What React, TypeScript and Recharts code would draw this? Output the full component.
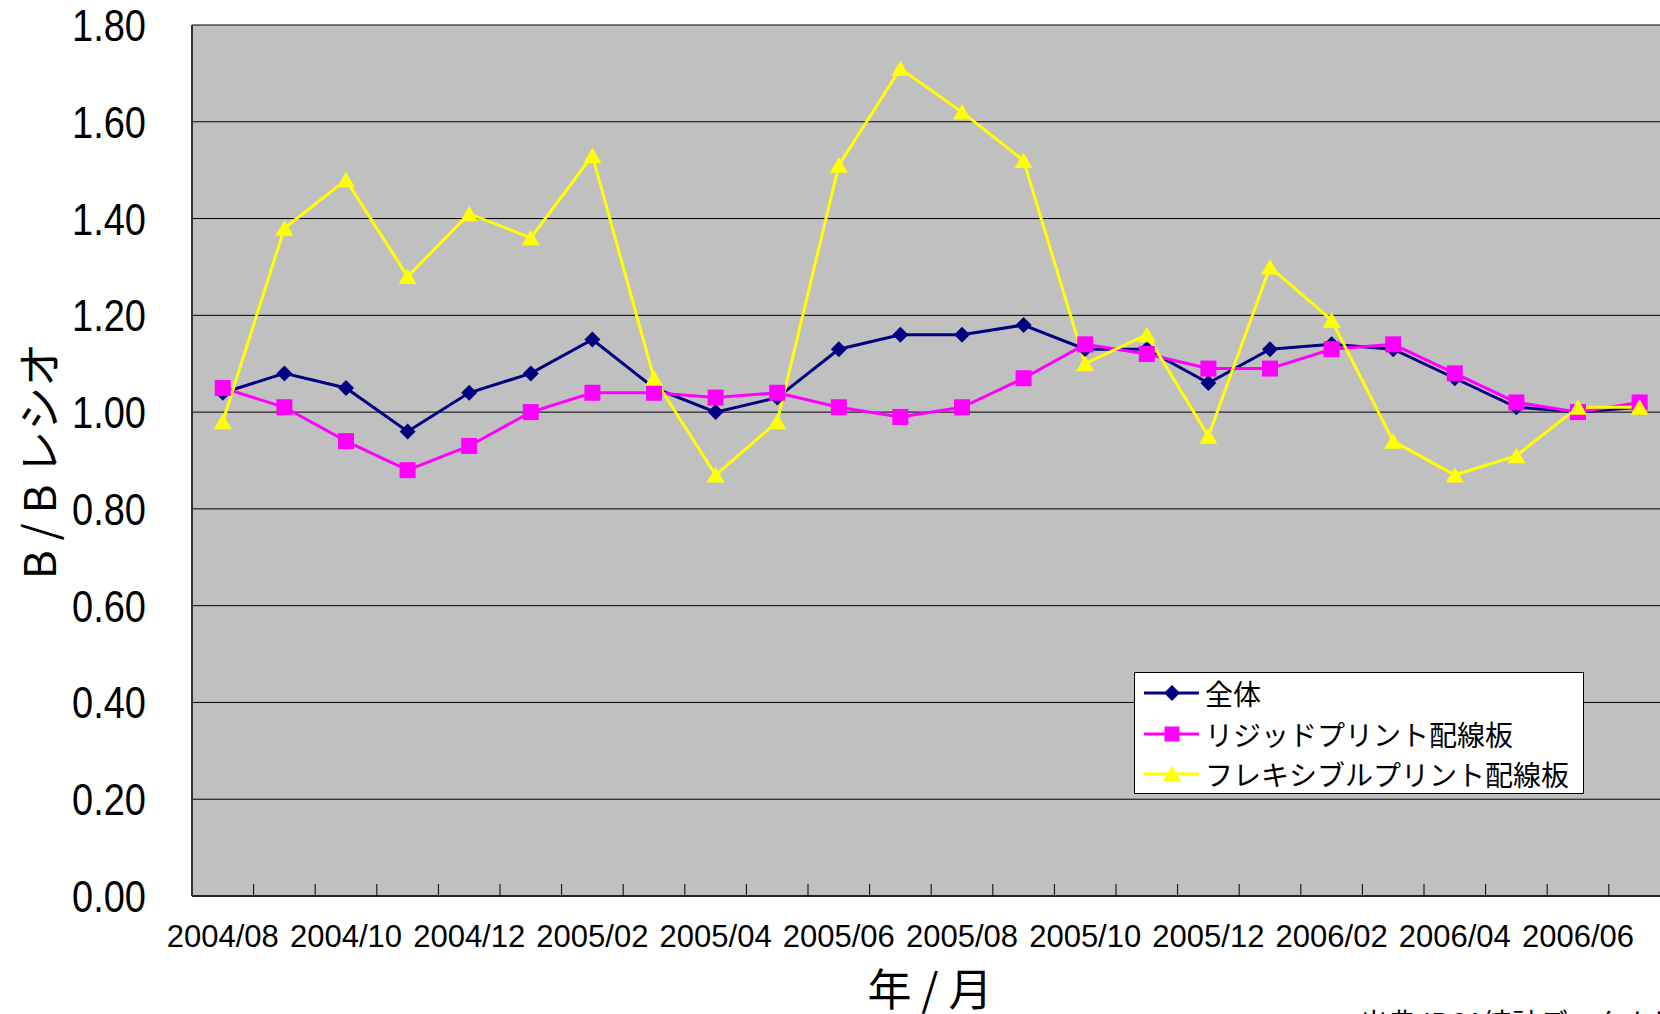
import React from "react";
import {
  LineChart,
  Line,
  XAxis,
  YAxis,
  CartesianGrid,
  Legend,
} from "recharts";

// months on the x axis (2004/08 - 2006/07)
const months = [
  "2004/08", "2004/09", "2004/10", "2004/11", "2004/12",
  "2005/01", "2005/02", "2005/03", "2005/04", "2005/05", "2005/06",
  "2005/07", "2005/08", "2005/09", "2005/10", "2005/11", "2005/12",
  "2006/01", "2006/02", "2006/03", "2006/04", "2006/05", "2006/06",
  "2006/07",
];

// B/B ratio per series
const total = [
  1.04, 1.08, 1.05, 0.96, 1.04, 1.08, 1.15, 1.05, 1.0, 1.03, 1.13, 1.16,
  1.16, 1.18, 1.13, 1.13, 1.06, 1.13, 1.14, 1.13, 1.07, 1.01, 1.0, 1.01,
];
const rigid = [
  1.05, 1.01, 0.94, 0.88, 0.93, 1.0, 1.04, 1.04, 1.03, 1.04, 1.01, 0.99,
  1.01, 1.07, 1.14, 1.12, 1.09, 1.09, 1.13, 1.14, 1.08, 1.02, 1.0, 1.02,
];
const flex = [
  0.98, 1.38, 1.48, 1.28, 1.41, 1.36, 1.53, 1.07, 0.87, 0.98, 1.51, 1.71,
  1.62, 1.52, 1.1, 1.16, 0.95, 1.3, 1.19, 0.94, 0.87, 0.91, 1.01, 1.01,
];

const yTicks = [0, 0.2, 0.4, 0.6, 0.8, 1.0, 1.2, 1.4, 1.6, 1.8];

const seriesNames = ["全体", "リジッドプリント配線板", "フレキシブルプリント配線板"];

// each month sits in the middle of its slot: slot i spans [i, i+1]
const data = months.map((m, i) => ({
  pos: i + 0.5,
  month: m,
  total: total[i],
  rigid: rigid[i],
  flex: flex[i],
}));

// slot edges (tick marks) and slot centres (labels)
const xTicks: number[] = [];
for (let i = 0; i < months.length; i++) {
  xTicks.push(i + 0.5);
  if (i > 0) xTicks.push(i);
}
xTicks.sort((a, b) => a - b);

const CJK = '"Noto Sans CJK JP", "Noto Sans", sans-serif';
const LATIN = '"Liberation Sans", Arial, sans-serif';

const NAVY = "#000080";
const MAGENTA = "#FF00FF";
const YELLOW = "#FFFF00";

function Diamond({ cx, cy, color = NAVY, r = 8 }: any) {
  if (cx == null || cy == null) return null;
  return (
    <path
      d={`M${cx},${cy - r}L${cx + r},${cy}L${cx},${cy + r}L${cx - r},${cy}Z`}
      fill={color}
    />
  );
}

function Square({ cx, cy, color = MAGENTA, r = 8 }: any) {
  if (cx == null || cy == null) return null;
  return <rect x={cx - r} y={cy - r} width={r * 2} height={r * 2} fill={color} />;
}

function Triangle({ cx, cy, color = YELLOW }: any) {
  if (cx == null || cy == null) return null;
  return (
    <path
      d={`M${cx},${cy - 8}L${cx + 9},${cy + 7.5}L${cx - 9},${cy + 7.5}Z`}
      fill={color}
    />
  );
}

function MonthTick({ x, y, payload }: any) {
  const v = payload.value;
  if (Number.isInteger(v)) {
    return <line x1={x} x2={x} y1={y} y2={y - 12} stroke="#000" strokeWidth={1} />;
  }
  const idx = Math.round(v - 0.5);
  if (idx % 2 !== 0) return <g />;
  return (
    <text
      x={x}
      y={y + 51}
      textAnchor="middle"
      fontSize={31}
      fontFamily={LATIN}
      fill="#000"
    >
      {months[idx]}
    </text>
  );
}

function ValueTick({ x, y, payload }: any) {
  return (
    <text
      transform={`translate(${x - 46},${y + 16}) scale(1,1.16)`}
      textAnchor="end"
      fontSize={38}
      fontFamily={LATIN}
      fill="#000"
    >
      {Number(payload.value).toFixed(2)}
    </text>
  );
}

function LegendBox() {
  const icons = [
    <Diamond cx={37} cy={20} />,
    <Square cx={37} cy={20} r={7.5} />,
    <Triangle cx={37} cy={20} />,
  ];
  const colors = [NAVY, MAGENTA, YELLOW];
  return (
    <div
      style={{
        boxSizing: "border-box",
        width: 450,
        height: 122,
        background: "#fff",
        border: "1px solid #000",
        fontFamily: CJK,
        fontSize: 28,
        color: "#000",
      }}
    >
      {seriesNames.map((name, i) => (
        <div key={name} style={{ display: "flex", alignItems: "center", height: 40.5 }}>
          <svg width={70} height={40} style={{ display: "block", flex: "none" }}>
            <line x1={9} x2={64} y1={20} y2={20} stroke={colors[i]} strokeWidth={3} />
            {icons[i]}
          </svg>
          <span style={{ whiteSpace: "nowrap", lineHeight: 1 }}>{name}</span>
        </div>
      ))}
    </div>
  );
}

export default function App() {
  return (
    <div
      style={{
        position: "absolute",
        left: 0,
        top: 0,
        width: 1660,
        height: 1014,
        overflow: "hidden",
        background: "#fff",
      }}
    >
      <LineChart
        width={1700}
        height={1014}
        data={data}
        margin={{ top: 25, right: 29.6, left: 0, bottom: 0 }}
      >
        <CartesianGrid
          vertical={false}
          stroke="#000"
          strokeWidth={1}
          fill="#C0C0C0"
          fillOpacity={1}
        />
        <XAxis
          dataKey="pos"
          type="number"
          domain={[0, months.length]}
          ticks={xTicks}
          interval={0}
          allowDecimals
          height={118}
          tickSize={0}
          tickMargin={0}
          tickLine={false}
          axisLine={{ stroke: "#222", strokeWidth: 2 }}
          tick={<MonthTick />}
        />
        <YAxis
          width={192}
          domain={[0, 1.8]}
          ticks={yTicks}
          interval={0}
          tickSize={0}
          tickMargin={0}
          tickLine={false}
          axisLine={{ stroke: "#333", strokeWidth: 2 }}
          tick={<ValueTick />}
        />
        <Legend
          layout="vertical"
          align="center"
          verticalAlign="middle"
          wrapperStyle={{ left: 1134, top: 672, width: 450, height: 122 }}
          content={() => <LegendBox />}
        />
        <Line
          dataKey="total"
          name={seriesNames[0]}
          stroke={NAVY}
          strokeWidth={3}
          dot={(p: any) => <Diamond key={`d${p.index}`} cx={p.cx} cy={p.cy} />}
          activeDot={false}
          isAnimationActive={false}
        />
        <Line
          dataKey="rigid"
          name={seriesNames[1]}
          stroke={MAGENTA}
          strokeWidth={3}
          dot={(p: any) => <Square key={`s${p.index}`} cx={p.cx} cy={p.cy} />}
          activeDot={false}
          isAnimationActive={false}
        />
        <Line
          dataKey="flex"
          name={seriesNames[2]}
          stroke={YELLOW}
          strokeWidth={3}
          dot={(p: any) => <Triangle key={`t${p.index}`} cx={p.cx} cy={p.cy} />}
          activeDot={false}
          isAnimationActive={false}
        />
      </LineChart>

      <div
        style={{
          position: "absolute",
          left: 37,
          top: 461,
          transform: "translate(-50%, -50%) rotate(-90deg)",
          fontFamily: CJK,
          fontSize: 44,
          lineHeight: 1,
          whiteSpace: "nowrap",
          color: "#000",
        }}
      >
        B / B レシオ
      </div>
      <div
        style={{
          position: "absolute",
          left: 930,
          top: 987,
          transform: "translate(-50%, -50%)",
          fontFamily: CJK,
          fontSize: 44,
          lineHeight: 1,
          whiteSpace: "nowrap",
          color: "#000",
        }}
      >
        年 / 月
      </div>
      <div
        style={{
          position: "absolute",
          left: 1360,
          top: 1008,
          fontFamily: CJK,
          fontSize: 28,
          lineHeight: 1,
          whiteSpace: "nowrap",
          color: "#000",
        }}
      >
        出典JPCA統計データより
      </div>
    </div>
  );
}
